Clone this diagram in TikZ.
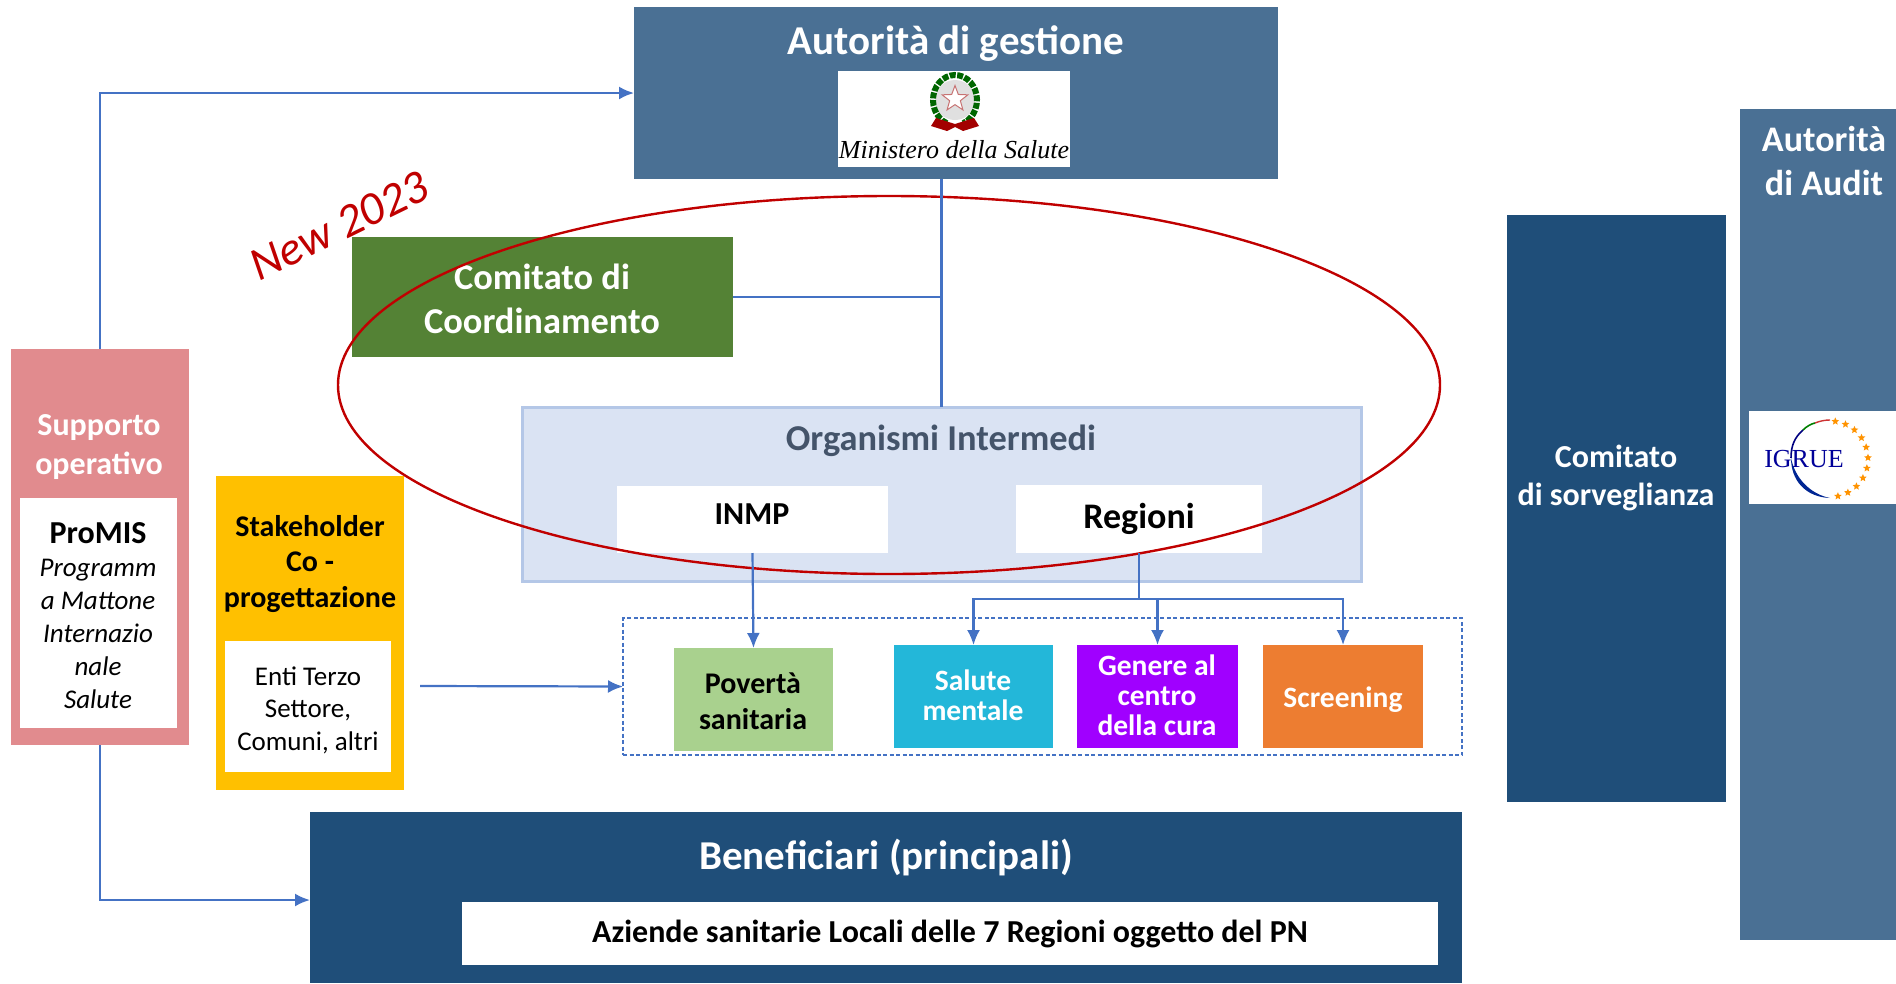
\documentclass[tikz,border=0pt]{standalone}
\usepackage{fontspec}
\setmainfont{Carlito}
\newfontfamily\logofont{Liberation Serif}
\usetikzlibrary{arrows.meta,shapes.geometric}
\definecolor{steel}{HTML}{4A7094}
\definecolor{navy}{HTML}{1F4E79}
\definecolor{leaf}{HTML}{548235}
\definecolor{rosy}{HTML}{E18B8E}
\definecolor{amber}{HTML}{FFC000}
\definecolor{paleblue}{HTML}{DAE3F3}
\definecolor{paleedge}{HTML}{B4C7E7}
\definecolor{link}{HTML}{4472C4}
\definecolor{crimson}{HTML}{C00000}
\definecolor{titleblue}{HTML}{44546A}
\definecolor{pgreen}{HTML}{A9D18E}
\definecolor{pcyan}{HTML}{23B7D9}
\definecolor{ppurple}{HTML}{A000FF}
\definecolor{porange}{HTML}{ED7D31}
\newcommand{\fs}[2]{\fontsize{#1}{#2}\selectfont}
\tikzset{
  panel/.style n args={4}{inner sep=0pt,outer sep=0pt,align=center,
     minimum width={#3-#1},minimum height={#4-#2},at={({(#1+#3)/2},{(#2+#4)/2})}},
  linkline/.style={draw=link,line width=2.2pt},
  linkarrow/.style={linkline,-{Latex[length=15pt,width=13pt]}},
  title/.style={text=white,align=center,inner sep=0pt},
  label/.style={text=black,align=center,inner sep=0pt},
}
\begin{document}
\begin{tikzpicture}[x=1pt,y=-1pt]
\useasboundingbox (0,0) rectangle (1896,983);
% boxes
\node[panel={634}{7}{1278}{179},fill=steel] (adg) {};
\node[title,font=\bfseries\fs{41}{41}] (adgt) at (956,44) {Autorità di gestione};
\node[panel={838}{71}{1070}{167},fill=white] (min) {};
% emblem
\fill[black!12] (955,100) circle (20);
\draw[line width=6pt,green!40!black,dash pattern=on 6pt off 1.5pt] (955,100) ++(112:22 and 25) arc (112:428:22 and 25);
\node[star,star points=5,star point ratio=2.4,draw=red!60!black!55,fill=white,line width=1pt,minimum size=27pt,inner sep=0pt] (minstar) at (955,99) {};
\fill[crimson!85!black] (936,118) -- (955,124) -- (974,118) -- (979,126) -- (963,131) -- (955,127) -- (947,131) -- (931,126) -- cycle;
\node[inner sep=0pt,text=black] (mintxt) at (954,150) {\logofont\itshape\fs{26}{26}Ministero della Salute};

\node[panel={352}{237}{733}{357},fill=leaf] (cc) {};
\node[title,font=\bfseries\fs{36.4}{44}] (cct) at (542,299) {Comitato di\\Coordinamento};
\node[panel={522}{407}{1361}{581},fill=paleblue,draw=paleedge,line width=3pt] (oi) {};
\node[text=titleblue,font=\bfseries\fs{36.4}{36.4},inner sep=0pt] (oit) at (941,441) {Organismi Intermedi};
\node[panel={617}{486}{888}{553},fill=white] (inmp) {};
\node[label,font=\bfseries\fs{32}{32}] (inmpt) at (752,514) {INMP};
\node[panel={1016}{485}{1262}{553},fill=white,font=\bfseries\fs{36}{36}] (reg) {Regioni};

\node[panel={623}{618}{1462}{755},draw=link,line width=1.2pt,dash pattern=on 4pt off 2.5pt] (dash) {};
\node[panel={674}{648}{833}{751},fill=pgreen] (pov) {};
\node[label,font=\bfseries\fs{30}{36}] (povt) at (753,701) {Povertà\\sanitaria};
\node[panel={894}{645}{1053}{748},fill=pcyan] (sal) {};
\node[title,font=\bfseries\fs{29.5}{30}] (salt) at (973,695) {Salute\\mentale};
\node[panel={1077}{645}{1238}{748},fill=ppurple] (gen) {};
\node[title,font=\bfseries\fs{29.5}{30}] (gent) at (1157,695) {Genere al\\centro\\della cura};
\node[panel={1263}{645}{1423}{748},fill=porange] (scr) {};
\node[title,font=\bfseries\fs{29.5}{30}] (scrt) at (1343,700) {Screening};

\node[panel={11}{349}{189}{745},fill=rosy] (sup) {};
\node[title,font=\bfseries\fs{32}{39}] (supt) at (99,447) {Supporto\\operativo};
\node[panel={20}{498}{177}{728},fill=white] (pro) {};
\node[label,font=\fs{27}{33}] (prot) at (98,616) {{\bfseries\fs{32}{33}ProMIS}\\\itshape Programm\\\itshape a Mattone\\\itshape Internazio\\\itshape nale\\\itshape Salute};

\node[panel={216}{476}{404}{790},fill=amber] (stk) {};
\node[label,font=\bfseries\fs{30}{35.5}] (stkt) at (310,564) {Stakeholder\\Co -\\progettazione};
\node[panel={225}{641}{391}{772},fill=white] (ets) {};
\node[label,font=\fs{27}{32.5}] (etst) at (308,710) {Enti Terzo\\Settore,\\Comuni, altri};

\node[panel={310}{812}{1462}{983},fill=navy] (ben) {};
\node[title,font=\bfseries\fs{41}{41}] (bent) at (886,857) {Beneficiari (principali)};
\node[panel={462}{902}{1438}{965},fill=white,font=\bfseries\fs{32}{32}] (asl) {Aziende sanitarie Locali delle 7 Regioni oggetto del PN};

\node[panel={1507}{215}{1726}{802},fill=navy] (sor) {};
\node[title,font=\bfseries\fs{32}{38}] (sort) at (1616,478) {Comitato\\di sorveglianza};
\node[panel={1740}{109}{1896}{940},fill=steel] (ada) {};
\node[title,font=\bfseries\fs{36}{43.5}] (adat) at (1824,161) {Autorità\\di Audit};
\node[panel={1749}{411}{1896}{504},fill=white] (igr) {};
% IGRUE logo
\fill[blue!50!black!85!cyan] (1830,498) .. controls (1805,497) and (1791,480) .. (1791,458) .. controls (1795,478) and (1810,494) .. (1830,498) -- cycle;
\draw[line width=1.6pt,blue!50!black] (1791,458) .. controls (1791,445) and (1795,437) .. (1803,430);
\draw[line width=1.6pt,green!50!black] (1803,430) .. controls (1807,426) and (1811,424) .. (1815,423);
\draw[line width=1.4pt,crimson!80] (1815,423) .. controls (1820,421) and (1825,420) .. (1830,420);
\foreach \a in {-82,-66,-50,-34,-18,-2,14,30,46,62,78}
  \node[star,star points=5,star point ratio=2.2,fill=orange!85!yellow,inner sep=0pt,minimum size=8pt] at ({1830+38*cos(\a)},{459+38*sin(\a)}) {};
\node[inner sep=0pt,text=blue!60!black] (igrt) at (1804,459) {\logofont\fs{26}{26}IGRUE};

% red ellipse
\node[ellipse,draw=crimson,line width=2.4pt,minimum width=1102pt,minimum height=378pt,inner sep=0pt] (ell) at (889,385) {};
\node[rotate=26,text=crimson,inner sep=0pt,font=\itshape\fs{47}{47}] (new) at (339,226) {New 2023};

% connectors
\coordinate (free) at (420,686);
\coordinate (bus) at (reg.south |- 0,599);
\coordinate (benin) at (ben.west |- 0,900);
\draw[linkline] (oi.north) -- (oi.north |- adg.south);
\draw[linkline] (cc.east) -- (cc.east -| oi.north);
\draw[linkarrow] (sup.north) |- (adg.west);
\draw[linkarrow] (sup.south) |- (benin);
\draw[linkarrow] (free) -- (dash.west);
\draw[linkarrow] (inmp.south) -- (pov.north);
\draw[linkline] (reg.south) -- (bus);
\draw[linkarrow] (bus) -| (sal.north);
\draw[linkarrow] (bus) -| (gen.north);
\draw[linkarrow] (bus) -| (scr.north);
\end{tikzpicture}
\end{document}
